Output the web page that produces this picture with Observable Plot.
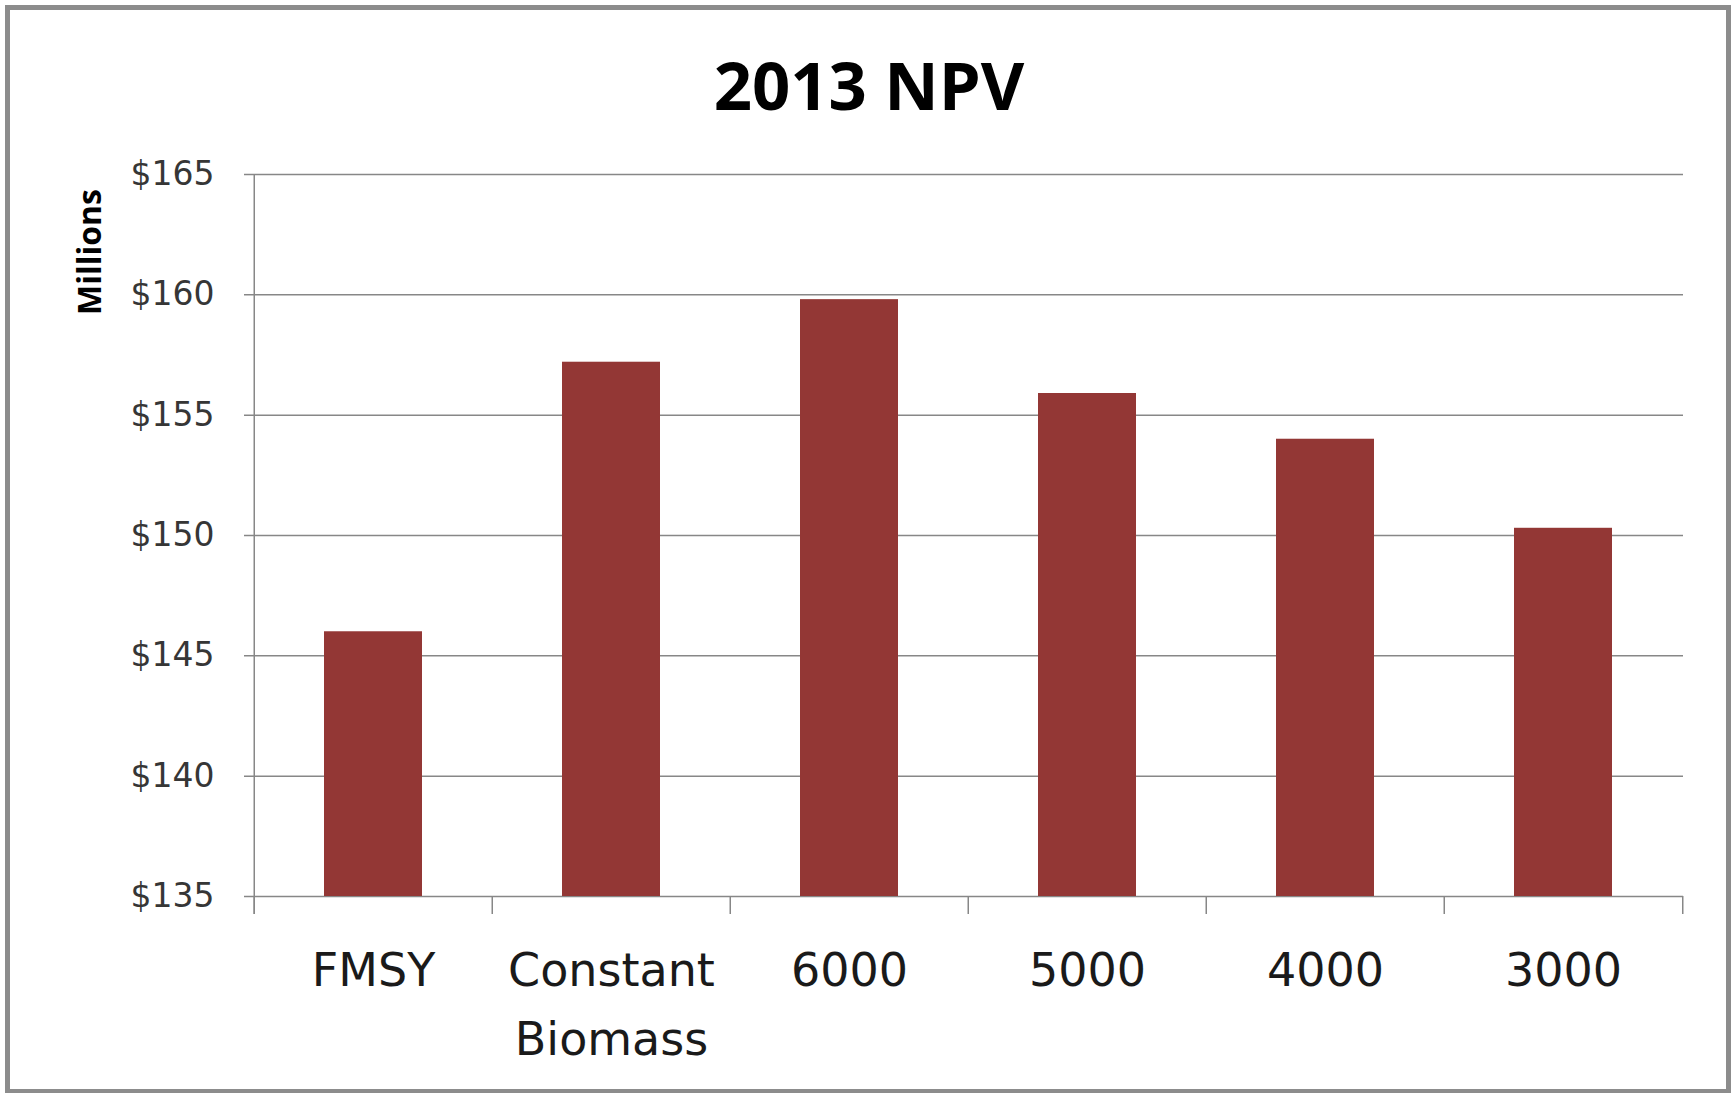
<!DOCTYPE html>
<html>
<head>
<meta charset="utf-8">
<script src="https://cdn.jsdelivr.net/npm/d3@7"></script>
<script src="https://cdn.jsdelivr.net/npm/@observablehq/plot@0.6"></script>
<style>
html, body { margin: 0; padding: 0; background: #ffffff; }
#frame { position: absolute; left: 5px; top: 5px; width: 1726px; height: 1089px; box-sizing: border-box; border: 5px solid #8c8c8c; z-index: 3; pointer-events: none; }
#overlay { position: absolute; left: 0; top: 0; z-index: 2; }
#chart { position: absolute; left: 0; top: 140px; z-index: 1; }
</style>
</head>
<body>
<div id="frame"></div>
<div id="chart"></div>
<script>
// ---- data ----
const chartTitle = "2013 NPV";
const yAxisTitle = "Millions";
const categories = ["FMSY", "Constant\nBiomass", "6000", "5000", "4000", "3000"];
const npvMillions = [146.0, 157.2, 159.8, 155.9, 154.0, 150.3];
const yTicks = [135, 140, 145, 150, 155, 160, 165];

const rows = categories.map((c, i) => ({category: c, value: npvMillions[i]}));

// ---- layout ----
const W = 1736, H = 945;
const ML = 252, MR = 53, MT = 34, MB = 189;
const step = (W - ML - MR) / categories.length;
const gridColor = "#878787";
const barColor = "#933735";
const yMin = yTicks[0], yMax = yTicks[yTicks.length - 1];

const plot = Plot.plot({
  width: W,
  height: H,
  marginLeft: ML,
  marginRight: MR,
  marginTop: MT,
  marginBottom: MB,
  style: {background: "transparent", overflow: "visible", fontFamily: "'DejaVu Sans', sans-serif"},
  x: {domain: categories, paddingInner: 0.59, paddingOuter: 0.295, label: null},
  y: {domain: [yMin, yMax], label: null},
  marks: [
    Plot.ruleY(yTicks, {stroke: gridColor, strokeWidth: 1.5, insetLeft: -8}),
    Plot.barY(rows, {x: "category", y1: yMin, y2: "value", fill: barColor}),
    // category boundary ticks below the axis
    Plot.ruleX(categories, {x: d => d, y1: yMin, y2: yMin, insetBottom: -18, dx: -step / 2, stroke: gridColor, strokeWidth: 1.5}),
    Plot.ruleX(categories.slice(-1), {x: d => d, y1: yMin, y2: yMin, insetBottom: -18, dx: step / 2, stroke: gridColor, strokeWidth: 1.5}),
    // vertical axis line
    Plot.ruleX(categories.slice(0, 1), {x: d => d, y1: yMax, y2: yMin, insetBottom: -18, dx: -step / 2, stroke: gridColor, strokeWidth: 1.5}),
    Plot.axisY({ticks: yTicks, tickSize: 0, tickPadding: 38, tickFormat: d => "$" + d, fontSize: 33, fill: "#363636", label: null}),
    Plot.axisX({tickSize: 0, tickPadding: 41, fontSize: 46, lineHeight: 1.5, fill: "#1a1a1a", label: null})
  ]
});
document.getElementById("chart").appendChild(plot);

// ---- title and axis title overlay ----
const svg = d3.select("body").append("svg")
  .attr("id", "overlay")
  .attr("width", W)
  .attr("height", 1093);
svg.append("text")
  .attr("x", 869)
  .attr("y", 110)
  .attr("text-anchor", "middle")
  .attr("font-family", "'Open Sans', sans-serif")
  .attr("font-weight", 700)
  .attr("font-size", 67)
  .attr("fill", "#000")
  .text(chartTitle);
svg.append("text")
  .attr("transform", "translate(101,252) rotate(-90)")
  .attr("text-anchor", "middle")
  .attr("font-family", "'Open Sans', sans-serif")
  .attr("font-weight", 700)
  .attr("font-size", 32)
  .attr("fill", "#000")
  .text(yAxisTitle);
</script>
</body>
</html>
